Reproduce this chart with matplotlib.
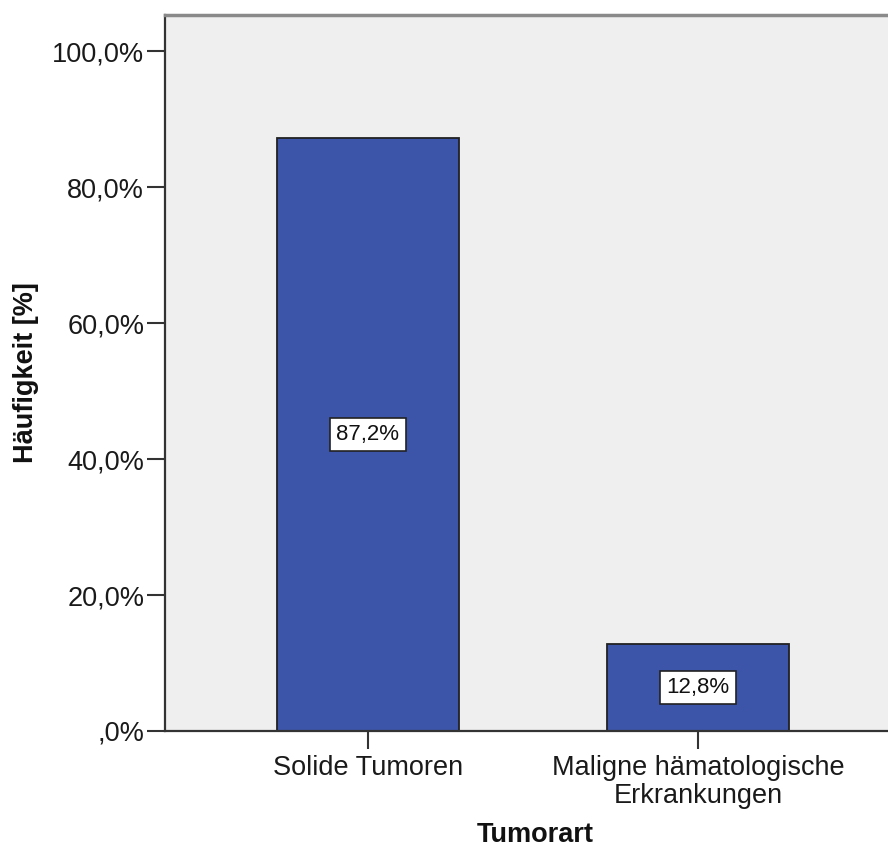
import matplotlib
matplotlib.use("Agg")
import matplotlib.pyplot as plt

categories = ["Solide Tumoren", "Maligne hämatologische\nErkrankungen"]
values = [87.2, 12.8]
value_labels = ["87,2%", "12,8%"]
yticks = [0, 20, 40, 60, 80, 100]
ytick_labels = [",0%", "20,0%", "40,0%", "60,0%", "80,0%", "100,0%"]

plt.rcParams["font.family"] = ["Liberation Sans", "DejaVu Sans"]

W, H = 888, 850
fig = plt.figure(figsize=(W / 100, H / 100), dpi=100)
fig.patch.set_facecolor("white")

# axes box in pixel coordinates (extends slightly past the right edge)
left, right, top, bottom = 165, 905, 15, 731
ax = fig.add_axes([left / W, 1 - bottom / H, (right - left) / W, (bottom - top) / H])
ax.set_facecolor("#efefef")

x = list(range(len(categories)))
ax.bar(x, values, width=0.55, color="#3d55a8", edgecolor="#222222", linewidth=1.3, zorder=2)

for xi, v, lab in zip(x, values, value_labels):
    ax.text(xi, v / 2, lab, ha="center", va="center", fontsize=16, color="#111111", zorder=3,
            bbox=dict(boxstyle="square,pad=0.28", facecolor="white", edgecolor="#222222", linewidth=1.2))

ax.set_xlim(-0.615, 1.627)
ax.set_ylim(0, 105.3)
ax.set_yticks(yticks)
ax.set_yticklabels(ytick_labels)
ax.set_xticks(x)
ax.set_xticklabels(categories, linespacing=1.12)

ax.tick_params(axis="both", direction="out", length=13, width=1.5, colors="#333333",
               labelsize=19.5, labelcolor="#1a1a1a", pad=2)
ax.tick_params(axis="x", pad=4)

ax.spines["left"].set_color("#333333")
ax.spines["left"].set_linewidth(1.6)
ax.spines["bottom"].set_color("#333333")
ax.spines["bottom"].set_linewidth(1.6)
ax.spines["top"].set_color("#8a8a8a")
ax.spines["top"].set_linewidth(2.5)
ax.spines["right"].set_visible(False)

fig.text(26 / W, 1 - 373 / H, "Häufigkeit [%]", rotation=90, ha="center", va="center",
         fontsize=19.5, fontweight="bold", color="#111111")
fig.text(535 / W, 1 - 835 / H, "Tumorart", ha="center", va="center",
         fontsize=19.5, fontweight="bold", color="#111111")

fig.savefig("out.png", dpi=100)
